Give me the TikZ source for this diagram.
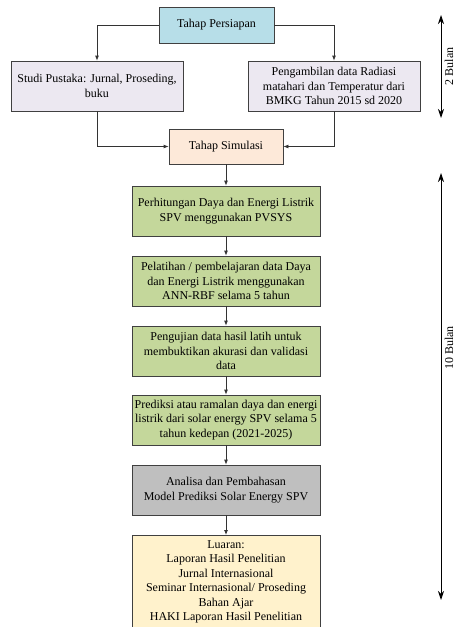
\documentclass[tikz,border=0pt]{standalone}
\usepackage{fontspec}
\setmainfont{Liberation Serif}
\usepackage{xcolor}
\usetikzlibrary{arrows.meta}
\definecolor{persiapanfill}{HTML}{B7DEE8}
\definecolor{studifill}{HTML}{ECE8F1}
\definecolor{simulasifill}{HTML}{FDE9D9}
\definecolor{hijaufill}{HTML}{C4D79B}
\definecolor{abufill}{HTML}{BFBFBF}
\definecolor{luaranfill}{HTML}{FFF2CC}

\begin{document}
\begin{tikzpicture}[x=1pt,y=-1pt]
    % Styles for boxes and lines
    \tikzset{
      box/.style={rectangle, draw=black!75, line width=0.8pt, align=center, inner sep=2pt, minimum width=188pt, minimum height=50pt, font=\fontsize{12}{14.5}\selectfont},
      arrow/.style={line width=0.8pt, draw=black!80, -{Latex[length=5pt,width=4pt]}},
      span/.style={line width=0.9pt, {Stealth[length=9pt,width=6pt]}-{Stealth[length=9pt,width=6pt]}}
    }
    \useasboundingbox (0,0) rectangle (459,627);

    % Nodes with explicit coordinates
    \node[box, fill=persiapanfill, minimum width=115pt, minimum height=36pt] (persiapan) at (216.5,25) {Tahap Persiapan};
    \node[box, fill=studifill, minimum width=172pt] (studi) at (97,86) {Studi Pustaka: Jurnal, Proseding,\\buku};
    \node[box, fill=studifill, minimum width=172pt] (ambil) at (334,86) {Pengambilan data Radiasi\\matahari dan Temperatur dari\\BMKG Tahun 2015 sd 2020};
    \node[box, fill=simulasifill, minimum width=114pt, minimum height=35pt] (simulasi) at (226,146.5) {Tahap Simulasi};

    \node[box, fill=hijaufill] (hitung) at (226,211) {Perhitungan Daya dan Energi Listrik\\SPV menggunakan PVSYS};
    \node[box, fill=hijaufill] (latih) at (226,281) {Pelatihan / pembelajaran data Daya\\dan Energi Listrik menggunakan\\ANN-RBF selama 5 tahun};
    \node[box, fill=hijaufill] (uji) at (226,351) {Pengujian data hasil latih untuk\\membuktikan akurasi dan validasi\\data};
    \node[box, fill=hijaufill] (prediksi) at (226,420) {Prediksi atau ramalan daya dan energi\\listrik dari solar energy SPV selama 5\\tahun kedepan (2021-2025)};
    \node[box, fill=abufill] (analisa) at (226,490) {Analisa dan Pembahasan\\Model Prediksi Solar Energy SPV};
    \node[box, fill=luaranfill, anchor=north, inner ysep=5pt, text depth=95pt] (luaran) at (226,535) {Luaran:\\Laporan Hasil Penelitian\\Jurnal Internasional\\Seminar Internasional/ Proseding\\Bahan Ajar\\HAKI Laporan Hasil Penelitian};

    % Time spans
    \coordinate (b2top) at (441,15);
    \coordinate (b2bot) at (441,118);
    \coordinate (b10top) at (441,173);
    \coordinate (b10bot) at (441,600);

    % Arrows
    \draw[arrow] (persiapan.west) -| (studi.north);
    \draw[arrow] (persiapan.east) -| (ambil.north);
    \draw[arrow] (studi.south) |- (simulasi.west);
    \draw[arrow] (ambil.south) |- (simulasi.east);
    \draw[arrow] (simulasi) -- (hitung);
    \draw[arrow] (hitung) -- (latih);
    \draw[arrow] (latih) -- (uji);
    \draw[arrow] (uji) -- (prediksi);
    \draw[arrow] (prediksi) -- (analisa);
    \draw[arrow] (analisa) -- (luaran);

    \draw[span] (b2bot) -- node[midway, sloped, below, font=\fontsize{12}{14.5}\selectfont] {2 Bulan} (b2top);
    \draw[span] (b10bot) -- node[pos=0.59, sloped, below, font=\fontsize{12}{14.5}\selectfont] {10 Bulan} (b10top);

\end{tikzpicture}
\end{document}
